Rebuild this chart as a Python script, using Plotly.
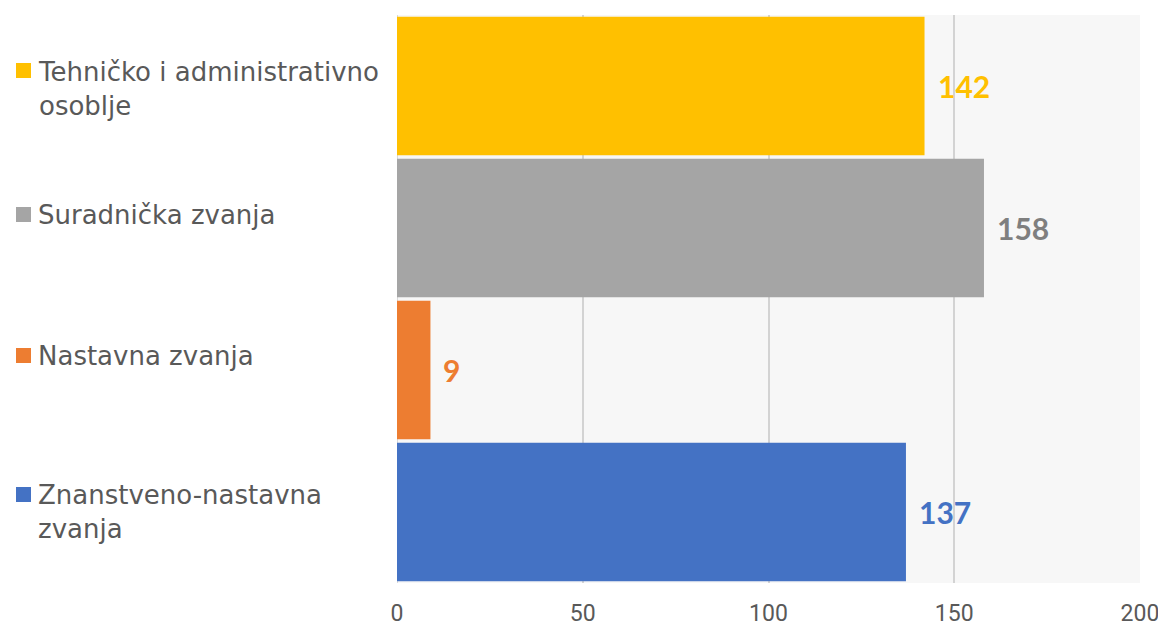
import plotly.graph_objects as go

categories = ["Znanstveno-nastavna zvanja", "Nastavna zvanja", "Suradnička zvanja",
              "Tehničko i administrativno osoblje"]
label_text = ["Znanstveno-nastavna<br>zvanja", "Nastavna zvanja", "Suradnička zvanja",
              "Tehničko i administrativno<br>osoblje"]
values = [137, 9, 158, 142]
colors = ["#4472C4", "#ED7D31", "#A5A5A5", "#FFC000"]
label_colors = ["#4472C4", "#ED7D31", "#7F7F7F", "#FFC000"]
tick_vals = [0, 50, 100, 150, 200]

# per-label vertical offsets (pixels) of the left-hand category texts
text_shift = [0, 14, 13, -3]
square_shift = [17, 14, 13, 15]

fig = go.Figure()
fig.add_trace(go.Bar(
    x=values, y=categories, orientation="h",
    marker=dict(color=colors, line=dict(width=0)),
    hoverinfo="skip",
))

annotations = []
shapes = []
for cat, txt, v, c, lc, ts, ss in zip(categories, label_text, values, colors,
                                       label_colors, text_shift, square_shift):
    annotations.append(dict(
        x=v, y=cat, xref="x", yref="y", text=str(v), showarrow=False,
        xanchor="left", yanchor="middle", xshift=11, yshift=0,
        font=dict(family="Lato", size=30, color=lc, weight="bold"),
    ))
    annotations.append(dict(
        x=0, y=cat, xref="paper", yref="y", text=txt, showarrow=False,
        xanchor="left", yanchor="middle", xshift=-361, yshift=ts, align="left",
        font=dict(family="DejaVu Sans", size=26, color="#595959"),
    ))
    shapes.append(dict(
        type="rect", xref="paper", yref="y", xsizemode="pixel", ysizemode="pixel",
        xanchor=0, yanchor=cat, x0=-381, x1=-366, y0=ss - 7, y1=ss + 8,
        fillcolor=c, line=dict(width=0),
    ))

fig.update_layout(
    width=1158, height=623,
    margin=dict(l=389, r=26, t=7, b=48),
    paper_bgcolor="white", plot_bgcolor="#F7F7F7",
    bargap=0.025, showlegend=False,
    annotations=annotations, shapes=shapes,
    xaxis=dict(range=[0, 200], tickvals=tick_vals, showgrid=True, automargin=False,
               gridcolor="#D3D3D3", gridwidth=2, zeroline=False,
               showline=False, ticks="outside", ticklen=9, tickcolor="rgba(0,0,0,0)",
               tickfont=dict(family="Roboto", size=23, color="#595959")),
    yaxis=dict(showticklabels=False, showgrid=False, zeroline=False, automargin=False,
               showline=False, categoryorder="array", categoryarray=categories),
)
fig.add_shape(type="line", xref="x", yref="paper", x0=0, x1=0, y0=0, y1=1,
              line=dict(color="#D9D9D9", width=2), layer="below")

fig.write_html("out.html")
